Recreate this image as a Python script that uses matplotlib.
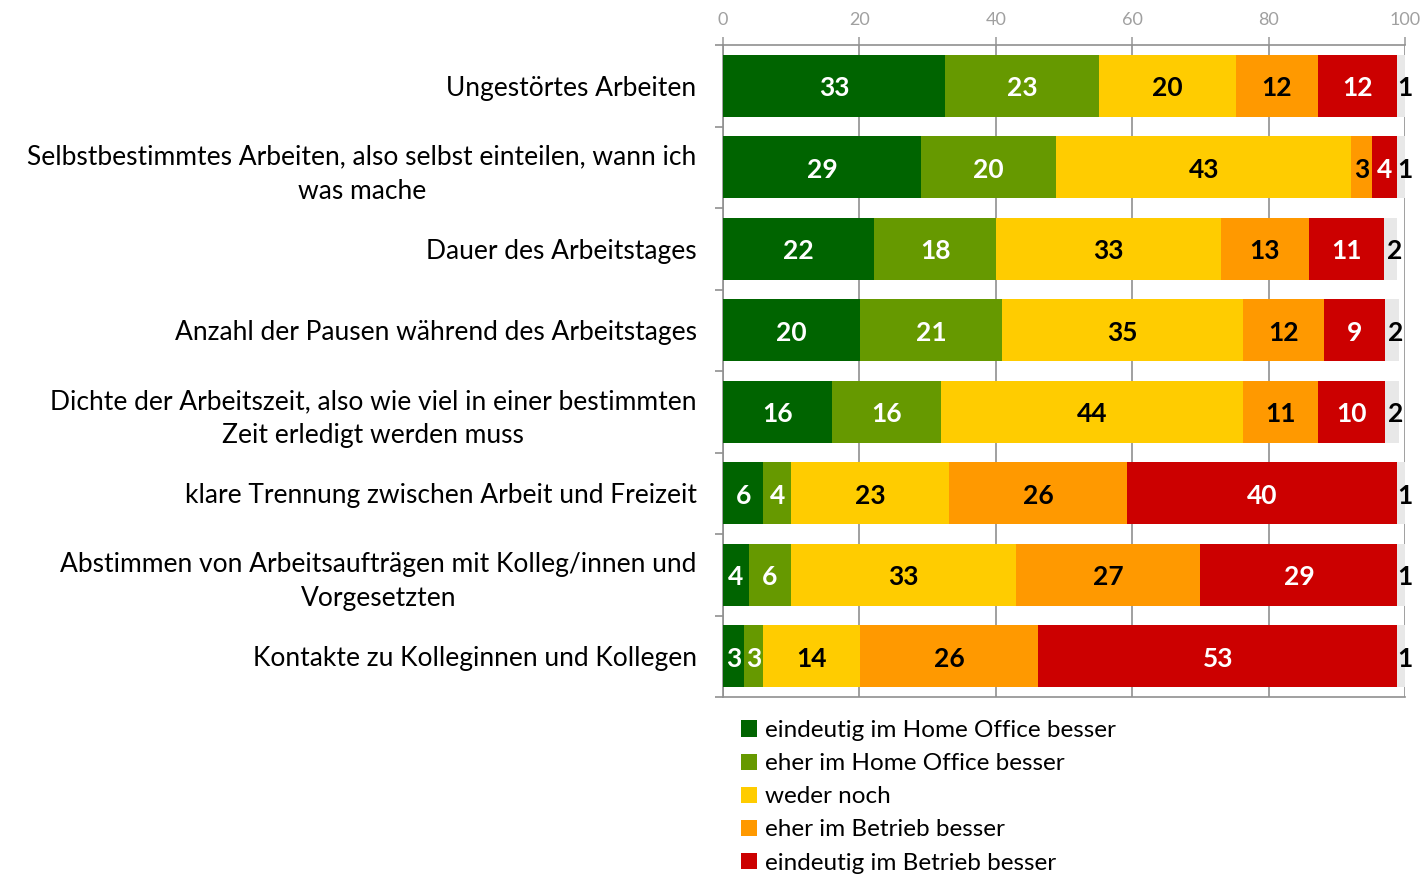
import matplotlib
matplotlib.use("Agg")
import matplotlib.pyplot as plt
from matplotlib.patches import Patch
import numpy as np

plt.rcParams['font.family'] = ['Lato', 'DejaVu Sans']

categories = [
    "Ungestörtes Arbeiten",
    "Selbstbestimmtes Arbeiten, also selbst einteilen, wann ich\nwas mache",
    "Dauer des Arbeitstages",
    "Anzahl der Pausen während des Arbeitstages",
    "Dichte der Arbeitszeit, also wie viel in einer bestimmten\nZeit erledigt werden muss",
    "klare Trennung zwischen Arbeit und Freizeit",
    "Abstimmen von Arbeitsaufträgen mit Kolleg/innen und\nVorgesetzten",
    "Kontakte zu Kolleginnen und Kollegen",
]

series_names = [
    "eindeutig im Home Office besser",
    "eher im Home Office besser",
    "weder noch",
    "eher im Betrieb besser",
    "eindeutig im Betrieb besser",
    "keine Angabe",
]

eindeutig_home = [32.6, 29.0, 22.1, 20.1, 16.0, 5.9, 3.8, 3.1]
eher_home      = [22.6, 19.9, 18.0, 20.8, 16.0, 4.1, 6.1, 2.8]
weder_noch     = [20.0, 43.2, 32.9, 35.4, 44.3, 23.2, 33.0, 14.2]
eher_betrieb   = [12.0, 3.0, 12.9, 11.8, 11.0, 26.0, 27.1, 26.1]
eindeutig_betr = [11.7, 3.8, 11.0, 9.0, 9.8, 39.7, 28.9, 52.7]
keine_angabe   = [1.1, 1.1, 2.0, 2.0, 2.0, 1.1, 1.1, 1.1]

xticks = [0, 20, 40, 60, 80, 100]

series = [eindeutig_home, eher_home, weder_noch, eher_betrieb, eindeutig_betr, keine_angabe]
colors = ["#006400", "#669900", "#FFCC00", "#FF9900", "#CC0000", "#E8E8E8"]
text_colors = ["white", "white", "black", "black", "white", "black"]

fig = plt.figure(figsize=(14.23, 8.74), dpi=100)
ax = fig.add_axes([723/1423, 1-697/874, 682/1423, 652/874])

y = np.arange(len(categories))
left = np.zeros(len(categories))
for i, (vals, col, tc) in enumerate(zip(series, colors, text_colors)):
    vals = np.array(vals)
    ax.barh(y, vals, left=left, height=0.76, color=col, edgecolor='none', zorder=3)
    dx = 0.6 if i == len(series) - 1 else 0.0
    for yi, (l, v) in enumerate(zip(left, vals)):
        ax.text(l + v/2 + dx, yi + 0.03, f"{v:.0f}", ha='center', va='center', color=tc,
                fontsize=19, fontweight='bold', zorder=4)
    left += vals

ax.set_xlim(0, 100)
ax.set_ylim(len(categories)-0.5, -0.5)
ax.xaxis.tick_top()
ax.set_xticks(xticks)
ax.set_xticklabels([str(t) for t in xticks])
ax.tick_params(axis='x', colors='#A0A0A0', labelsize=13, length=6, width=1.2, pad=6,
               labelcolor='#A0A0A0')
ax.grid(axis='x', color='#909090', linewidth=1.2, zorder=0)

ax.set_yticks(y)
ax.set_yticklabels(categories, fontsize=19, ha='right', multialignment='center',
                   color='black', linespacing=1.45)
ax.tick_params(axis='y', length=0, pad=19)
ax.set_yticks(np.arange(-0.5, len(categories), 1), minor=True)
ax.tick_params(axis='y', which='minor', length=6, width=1.2, color='#909090')

for s in ['top', 'left', 'bottom']:
    ax.spines[s].set_color('#909090')
    ax.spines[s].set_linewidth(1.2)
ax.spines['right'].set_visible(False)

handles = [Patch(facecolor=c, edgecolor='none') for c in colors[:5]]
fig.legend(handles, series_names[:5], loc='upper left',
           bbox_to_anchor=(741/1423, 1-720/874), frameon=False, fontsize=17.5,
           handlelength=0.65, handleheight=0.65, handletextpad=0.35,
           labelspacing=0.5, borderaxespad=0, borderpad=0)

fig.savefig("out.png", dpi=100)
